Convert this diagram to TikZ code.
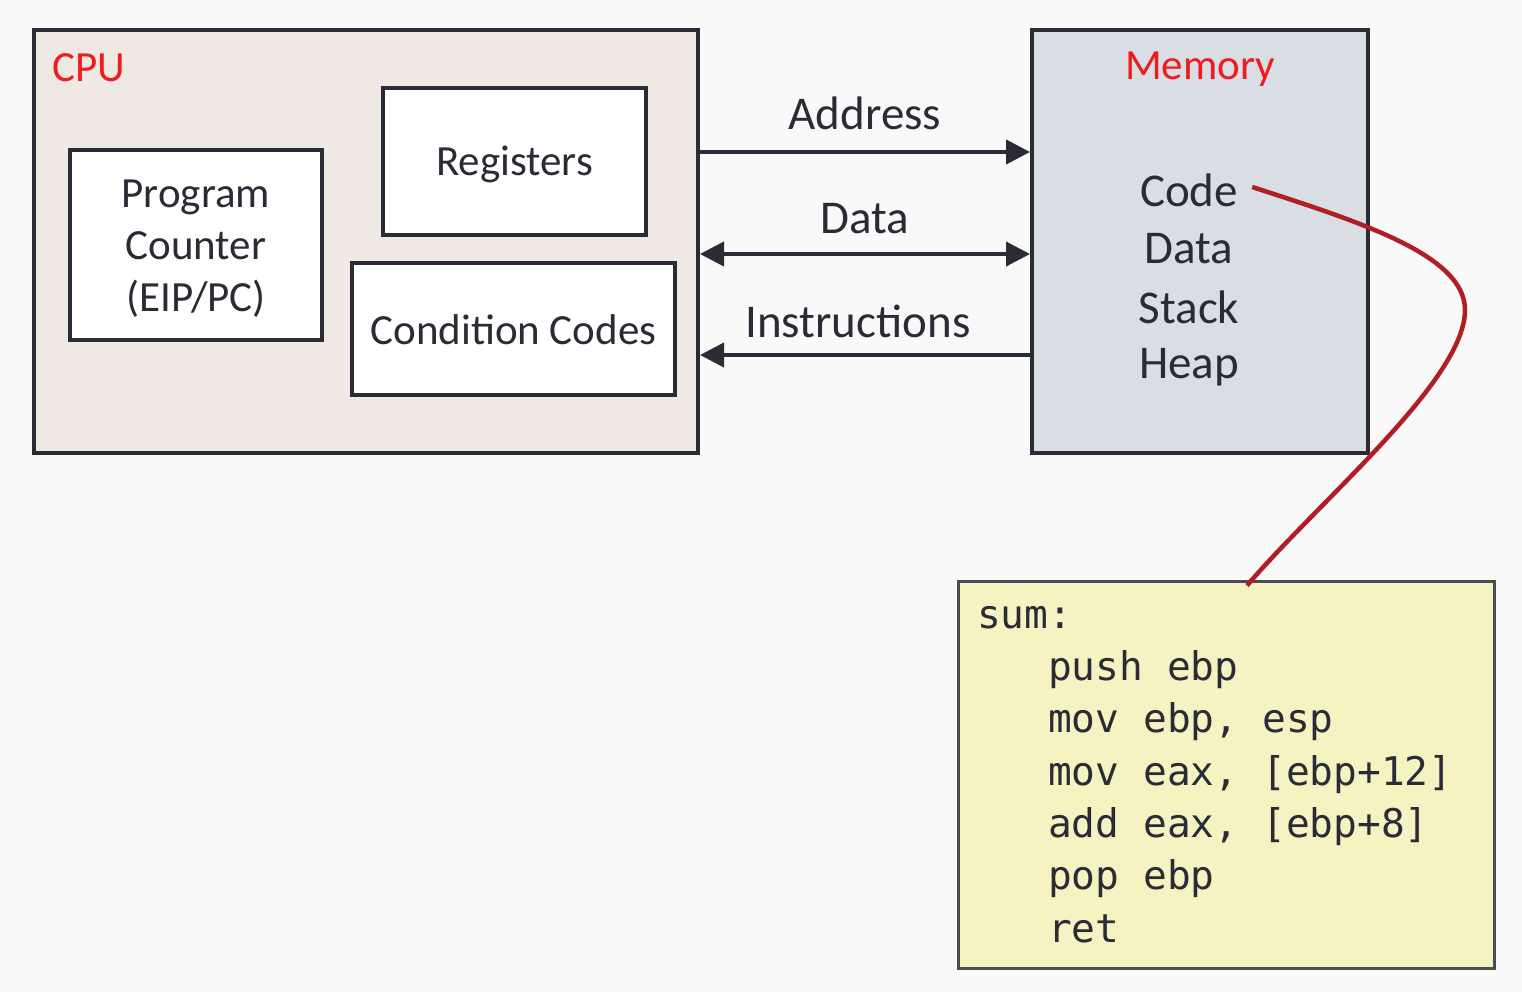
\documentclass[tikz,border=0pt]{standalone}
\usepackage{fontspec}
\setmainfont{Carlito}
\newfontfamily\codefont{DejaVu Sans Mono}
\usetikzlibrary{arrows.meta}
\definecolor{bgc}{HTML}{F9F9F9}
\definecolor{ink}{HTML}{2B2B36}
\definecolor{cpufill}{HTML}{F0E9E3}
\definecolor{memfill}{HTML}{D9DEE5}
\definecolor{codefill}{HTML}{F6F3C2}
\definecolor{redtxt}{HTML}{F01B1B}
\definecolor{curve}{HTML}{B01E23}
\tikzset{
  bigbox/.style={draw=ink, line width=4pt, inner sep=0pt},
  wbox/.style={draw=ink, line width=4pt, fill=white, inner sep=0pt, align=center, font=\fontsize{43}{52}\selectfont, text=ink},
  lbl/.style={font=\fontsize{47}{52}\selectfont, text=ink, inner sep=0pt},
  redlbl/.style={font=\fontsize{43}{50}\selectfont, text=redtxt, inner sep=0pt},
  memtxt/.style={font=\fontsize{47}{52}\selectfont, text=ink, inner sep=0pt},
  bus/.style={draw=ink, line width=4pt},
  tipp/.style={-{Triangle[length=24pt,width=24pt]}},
  codeline/.style={font=\codefont\fontsize{39.5}{52.4}\selectfont, text=ink, inner sep=0pt, anchor=base west},
}
\begin{document}
\begin{tikzpicture}[x=1pt,y=-1pt]
\useasboundingbox[fill=bgc] (0,0) rectangle (1522,992);
% CPU
\node[bigbox, fill=cpufill, minimum width=664pt, minimum height=423pt] (cpu) at (366,241.5) {};
\node[redlbl, anchor=west] (cpulbl) at (52,68) {CPU};
\node[wbox, minimum width=252pt, minimum height=190pt] (pc) at (196,245) {};
\node[font=\fontsize{43}{52}\selectfont, text=ink, align=center, inner sep=0pt] (pctxt) at (196,249) {Program\\Counter\\(EIP/PC)};
\node[wbox, minimum width=263pt, minimum height=147pt] (reg) at (514.5,161.5) {};
\node[font=\fontsize{43}{52}\selectfont, text=ink, inner sep=0pt] (regtxt) at (514.5,164) {Registers};
\node[wbox, minimum width=323pt, minimum height=132pt] (cc) at (513.5,329) {};
\node[font=\fontsize{43}{52}\selectfont, text=ink, inner sep=0pt] (cctxt) at (513.5,330) {Condition Codes};
% Memory
\node[bigbox, fill=memfill, minimum width=336pt, minimum height=423pt] (mem) at (1200,241.5) {};
\node[redlbl] (memlbl) at (1200,69) {Memory};
\node[memtxt] (mcode) at (1189,190) {Code};
\node[memtxt] (mdata) at (1189,249) {Data};
\node[memtxt] (mstack) at (1189,307) {Stack};
\node[memtxt] (mheap) at (1189,367) {Heap};
% buses
\draw[bus, tipp] (cpu.east |- 0,152) -- (mem.west |- 0,152);
\draw[bus, {Triangle[length=24pt,width=24pt]}-{Triangle[length=24pt,width=24pt]}] (cpu.east |- 0,254) -- (mem.west |- 0,254);
\draw[bus, tipp] (mem.west |- 0,355) -- (cpu.east |- 0,355);
\node[lbl] (laddr) at (865,113) {Address};
\node[lbl] (ldata) at (865,219) {Data};
\node[lbl] (linstr) at (858,321) {Instructions};
% code box
\node[draw=ink!85, line width=3pt, fill=codefill, minimum width=536pt, minimum height=387pt, inner sep=0pt] (code) at (1226,774.5) {};
\node[codeline] (c1) at (977,628) {sum:};
\node[codeline] (c2) at (1048,680.3) {push ebp};
\node[codeline] (c3) at (1048,732.7) {mov ebp, esp};
\node[codeline] (c4) at (1048,785) {mov eax, [ebp+12]};
\node[codeline] (c5) at (1048,837.3) {add eax, [ebp+8]};
\node[codeline] (c6) at (1048,889.7) {pop ebp};
\node[codeline] (c7) at (1048,942) {ret};
% red curve
\coordinate (cstart) at ([xshift=14pt,yshift=3pt]mcode.east);
\coordinate (cend) at ([xshift=21pt,yshift=-6pt]code.north);
\draw[curve, line width=4.5pt] (cstart) .. controls (1360,222) and (1465,255) .. (1465,310)
  .. controls (1465,380) and (1320,500) .. (cend);
\end{tikzpicture}
\end{document}
